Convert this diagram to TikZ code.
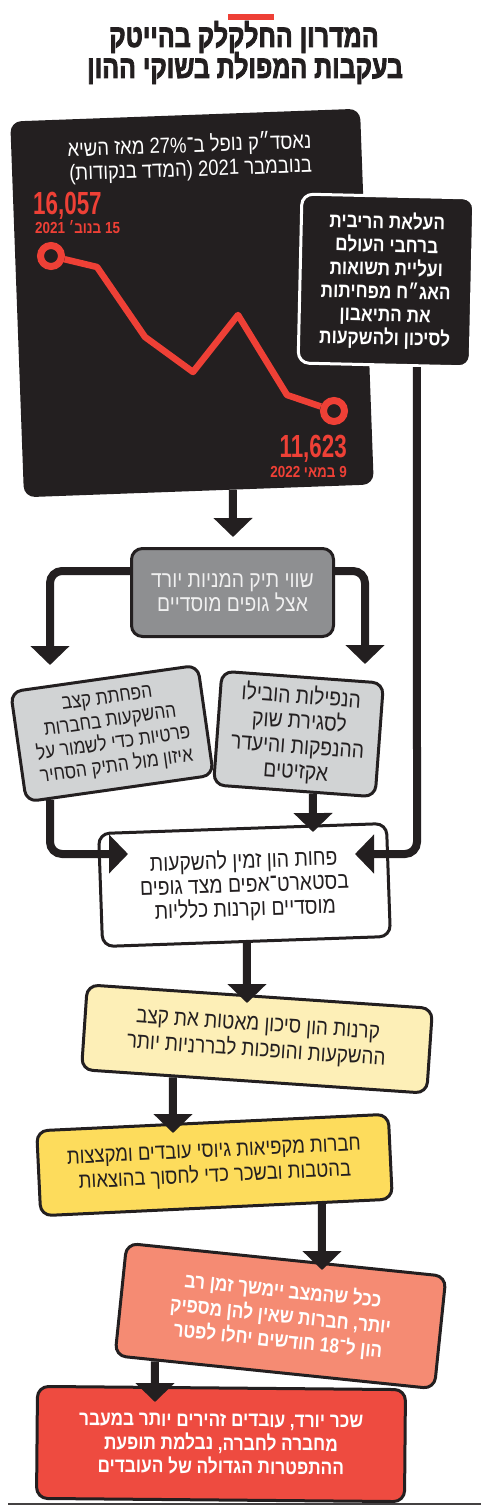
\documentclass[tikz,border=0pt]{standalone}
\usepackage{fontspec}
\setmainfont[Script=Hebrew]{Liberation Sans}
\newfontfamily\condfont[Script=Hebrew,FakeStretch=0.84]{Liberation Sans}
\newfontfamily\numfont[FakeStretch=0.7]{Liberation Sans Bold}
\newfontfamily\titlefont[Script=Hebrew,FakeStretch=0.78,FakeBold=2.5]{Liberation Sans Bold}
\TeXXeTstate=1
\usetikzlibrary{arrows.meta}
\newcommand\heb[1]{\beginR#1\endR}
\definecolor{ink}{HTML}{231F20}
\definecolor{accent}{HTML}{EE4036}
\definecolor{midgray}{HTML}{8E8F91}
\definecolor{lightgray}{HTML}{D1D3D4}
\definecolor{paleyellow}{HTML}{FDEFB7}
\definecolor{sunyellow}{HTML}{FDDC5C}
\definecolor{salmon}{HTML}{F58B73}
\definecolor{boxred}{HTML}{EE4B40}
\begin{document}
\begin{tikzpicture}[x=1pt,y=-1pt,
  every node/.style={inner sep=0pt},
  box/.style={draw=ink,line width=3pt,rounded corners=11pt,align=center,text=ink},
  body/.style={font=\condfont\fontsize{23}{24}\selectfont},
  bodybold/.style={font=\condfont\bfseries\fontsize{20.5}{23.2}\selectfont},
  conn/.style={draw=ink,line width=8pt,-{Triangle[width=38pt,length=19pt]}},
  bent/.style={conn,rounded corners=12pt}]
\useasboundingbox (0,0) rectangle (490,1511);
\fill[white] (0,0) rectangle (490,1511);

% title
\fill[accent] (228,14) rectangle (274,20);
\node[font=\titlefont\fontsize{32}{34}\selectfont,text=ink,anchor=base] (title1) at (244,47) {\heb{המדרון החלקלק בהייטק}};
\node[font=\titlefont\fontsize{32}{34}\selectfont,text=ink,anchor=base] (title2) at (245,78) {\heb{בעקבות המפולת בשוקי ההון}};

% chart panel
\node[fill=ink,rounded corners=11pt,minimum width=350pt,minimum height=376pt,rotate=2.1] (chart) at (192,303) {};
\node[font=\condfont\fontsize{22}{24}\selectfont,text=white,align=right,anchor=north east,rotate=2] (ctitle) at (311,130)
  {\heb{נאסד״ק נופל ב־\beginL27\%\endL{} מאז השיא}\\\heb{בנובמבר 2021 (המדד בנקודות)}};
\node[font=\numfont\fontsize{32}{33}\selectfont,text=accent,anchor=base west] (n1) at (33,215) {16,057};
\node[font=\condfont\bfseries\fontsize{16}{17}\selectfont,text=accent,anchor=base west] (d1) at (35,234) {\heb{15 בנוב׳ 2021}};
\node[font=\numfont\fontsize{32}{33}\selectfont,text=accent,anchor=base east] (n2) at (347,457) {11,623};
\node[font=\condfont\bfseries\fontsize{16}{17}\selectfont,text=accent,anchor=base east] (d2) at (347,477) {\heb{9 במאי 2022}};
\node[circle,draw=accent,line width=7pt,fill=ink,minimum size=21pt] (ring1) at (51,256) {};
\node[circle,draw=accent,line width=7pt,fill=ink,minimum size=21pt] (ring2) at (334,411) {};
\draw[accent,line width=6.5pt,line join=round] (ring1) -- (97,267) -- (145,337) -- (193,372) -- (238,315) -- (287,395) -- (ring2);

% right dark box
\node[box,bodybold,draw=white,fill=ink,text=white,minimum width=172pt,minimum height=169pt,rotate=-1.3] (rbox) at (386,280.5)
  {\heb{העלאת הריבית}\\\heb{ברחבי העולם}\\\heb{ועליית תשואות}\\\heb{האג״ח מפחיתות}\\\heb{את התיאבון}\\\heb{לסיכון ולהשקעות}};

% gray box
\node[box,body,fill=midgray,text=white!94!black,minimum width=202pt,minimum height=88pt] (gray) at (232.5,592.5)
  {\heb{שווי תיק המניות יורד}\\\heb{אצל גופים מוסדיים}};

% light gray boxes
\node[box,body,font=\condfont\fontsize{20.5}{23}\selectfont,fill=lightgray,minimum width=189pt,minimum height=111pt,rotate=8.1] (lbox) at (112,733.5)
  {\heb{הפחתת קצב}\\\heb{ההשקעות בחברות}\\\heb{פרטיות כדי לשמור על}\\\heb{איזון מול התיק הסחיר}};
\node[box,body,font=\condfont\fontsize{23}{25}\selectfont,fill=lightgray,minimum width=162pt,minimum height=114pt,rotate=-4.2] (rlbox) at (298.5,734)
  {\heb{הנפילות הובילו}\\\heb{לסגירת שוק}\\\heb{ההנפקות והיעדר}\\\heb{אקזיטים}};

% white box
\node[box,body,fill=white,minimum width=288pt,minimum height=113pt,rotate=2] (wbox) at (244.5,885)
  {\heb{פחות הון זמין להשקעות}\\\heb{בסטארט־אפים מצד גופים}\\\heb{מוסדיים וקרנות כלליות}};

% yellow boxes
\node[box,body,font=\condfont\fontsize{22.5}{26}\selectfont,fill=paleyellow,minimum width=346pt,minimum height=85pt,rotate=-3.9] (ybox1) at (257,1039)
  {\heb{קרנות הון סיכון מאטות את קצב}\\\heb{ההשקעות והופכות לבררניות יותר}};
\node[box,body,font=\condfont\fontsize{22}{25}\selectfont,fill=sunyellow,minimum width=352pt,minimum height=85pt,rotate=2.7] (ybox2) at (214.5,1165)
  {\heb{חברות מקפיאות גיוסי עובדים ומקצצות}\\\heb{בהטבות ובשכר כדי לחסוך בהוצאות}};

% salmon box
\node[box,font=\condfont\bfseries\fontsize{20.5}{25}\selectfont,fill=salmon,text=white,minimum width=321pt,minimum height=113pt,rotate=-5.9] (sbox) at (280.5,1316)
  {\heb{ככל שהמצב יימשך זמן רב}\\\heb{יותר, חברות שאין להן מספיק}\\\heb{הון ל־\beginL18\endL{} חודשים יחלו לפטר}};

% red box
\node[box,font=\condfont\bfseries\fontsize{20.5}{23.5}\selectfont,fill=boxred,text=white,minimum width=368pt,minimum height=112pt,rotate=-0.5] (rbox2) at (221,1444)
  {\heb{שכר יורד, עובדים זהירים יותר במעבר}\\\heb{מחברה לחברה, נבלמת תופעת}\\\heb{ההתפטרות הגדולה של העובדים}};

% bottom rule
\draw[ink!85,line width=1.2pt] (8,1504) -- (481,1504);

% connector helper coordinates
\coordinate (t1) at (233,537);  \coordinate (u1) at (233,0);
\coordinate (k2) at (50,571);   \coordinate (t2) at (50,665);
\coordinate (k3) at (365,571);  \coordinate (t3) at (365,664);
\coordinate (k4) at (50,854);   \coordinate (t4) at (128,854); \coordinate (u4) at (50,0);
\coordinate (t5) at (313,832);  \coordinate (u5) at (313,0);
\coordinate (k6) at (417,854);  \coordinate (t6) at (355,854); \coordinate (u6) at (417,0);
\coordinate (t7) at (247,1003); \coordinate (u7) at (247,0);
\coordinate (t8) at (173,1133); \coordinate (u8) at (173,0);
\coordinate (t9) at (322,1270); \coordinate (u9) at (322,0);
\coordinate (t10) at (155,1402); \coordinate (u10) at (155,0);

% connectors
\draw[conn] (intersection of chart.south west--chart.south east and t1--u1) -- (t1);
\draw[bent] (gray.west |- k2) -- (k2) -- (t2);
\draw[bent] (gray.east |- k3) -- (k3) -- (t3);
\draw[bent] (intersection of lbox.south west--lbox.south east and k4--u4) -- (k4) -- (t4);
\draw[conn] (intersection of rlbox.south west--rlbox.south east and t5--u5) -- (t5);
\draw[bent] (intersection of rbox.south west--rbox.south east and k6--u6) -- (k6) -- (t6);
\draw[conn] (intersection of wbox.south west--wbox.south east and t7--u7) -- (t7);
\draw[conn] (intersection of ybox1.south west--ybox1.south east and t8--u8) -- (t8);
\draw[conn] (intersection of ybox2.south west--ybox2.south east and t9--u9) -- (t9);
\draw[conn] (intersection of sbox.south west--sbox.south east and t10--u10) -- (t10);
\end{tikzpicture}
\end{document}
